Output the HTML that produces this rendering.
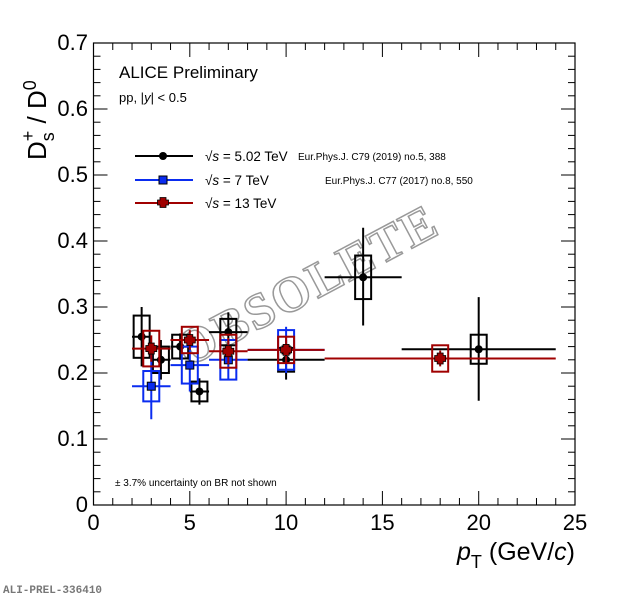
<!DOCTYPE html>
<html><head><meta charset="utf-8"><style>
body{margin:0;background:#fff;}
svg{display:block;font-family:"Liberation Sans",sans-serif;}
</style></head><body>
<svg id="s" width="620" height="598" xmlns="http://www.w3.org/2000/svg">
<rect width="620" height="598" fill="#fff"/>
<g id="ticks" stroke="#000" stroke-width="1"></g>
<rect x="93.5" y="43" width="481.5" height="462" fill="none" stroke="#000" stroke-width="1.2"/>
<g font-size="22" text-anchor="middle">
<text x="93.5" y="530">0</text><text x="189.8" y="530">5</text><text x="286" y="530">10</text>
<text x="382.4" y="530">15</text><text x="478.7" y="530">20</text><text x="575" y="530">25</text>
</g>
<g font-size="22" text-anchor="end">
<text x="88" y="512">0</text><text x="88" y="446">0.1</text><text x="88" y="380">0.2</text>
<text x="88" y="314">0.3</text><text x="88" y="248">0.4</text><text x="88" y="182">0.5</text>
<text x="88" y="116">0.6</text><text x="88" y="50">0.7</text>
</g>
<text transform="translate(46,160) rotate(-90)" font-size="26">D<tspan font-size="18" dy="8">s</tspan><tspan font-size="18" dx="-9" dy="-20">+</tspan><tspan dy="12"> / D</tspan><tspan font-size="18" dy="-10">0</tspan></text>
<text x="575" y="560" font-size="25" text-anchor="end"><tspan font-style="italic">p</tspan><tspan font-size="18" dy="8">T</tspan><tspan dy="-8"> (GeV/</tspan><tspan font-style="italic">c</tspan>)</text>
<text x="119" y="78" font-size="17">ALICE Preliminary</text>
<text x="119" y="102" font-size="13">pp, |<tspan font-style="italic">y</tspan>| &lt; 0.5</text>
<text x="115" y="486" font-size="10">± 3.7% uncertainty on BR not shown</text>
<text x="3" y="593" font-size="11" font-family="Liberation Mono,monospace" font-weight="bold" fill="#777">ALI-PREL-336410</text>
<text transform="translate(315,300) rotate(-28)" font-size="50" font-family="Liberation Serif,serif" font-weight="bold" fill="#fff" stroke="#999" stroke-width="1.5" text-anchor="middle" letter-spacing="2">OBSOLETE</text>
<g stroke-width="2">
<line x1="135" y1="156" x2="193" y2="156" stroke="#000"/><circle cx="163" cy="156" r="4" fill="#000"/>
<line x1="135" y1="180" x2="193" y2="180" stroke="#0a2cf0"/><rect x="159" y="176" width="8" height="8" fill="#0a2cf0" stroke="#000" stroke-width="1"/>
<line x1="135" y1="203" x2="193" y2="203" stroke="#a00000"/>
<path d="M160,198h6v2.5h2.5v5h-2.5v2.5h-6v-2.5h-2.5v-5h2.5z" transform="translate(0,-0.5)" fill="#a00000" stroke="#000" stroke-width="0.8"/>
</g>
<g font-size="13.5">
<text x="205" y="161">√<tspan font-style="italic">s</tspan> = 5.02 TeV</text>
<text x="205" y="185">√<tspan font-style="italic">s</tspan> = 7 TeV</text>
<text x="205" y="208">√<tspan font-style="italic">s</tspan> = 13 TeV</text>
</g>
<g font-size="10">
<text x="298" y="160">Eur.Phys.J. C79 (2019) no.5, 388</text>
<text x="325" y="184">Eur.Phys.J. C77 (2017) no.8, 550</text>
</g>
<g id="data"></g>
</svg>
<script>
var X=function(v){return 93.5+19.26*v},Y=function(v){return 505-660*v};
var ns="http://www.w3.org/2000/svg";
function el(p,t,a){var e=document.createElementNS(ns,t);for(var k in a)e.setAttribute(k,a[k]);p.appendChild(e);return e;}
var tk=document.getElementById("ticks");
for(var i=0;i<=25;i++){var L=i%5==0?14:7;el(tk,"line",{x1:X(i),y1:505,x2:X(i),y2:505-L});el(tk,"line",{x1:X(i),y1:43,x2:X(i),y2:43+L});}
for(var j=0;j<=35;j++){var v=j*0.02,L=j%5==0?14:7;el(tk,"line",{x1:93.5,y1:Y(v),x2:93.5+L,y2:Y(v)});el(tk,"line",{x1:575,y1:Y(v),x2:575-L,y2:Y(v)});}
var d=document.getElementById("data");
var red=[[3,2,4,.237,.02,.02,.027],[5,4,6,.25,.015,.015,.02],[7,6,8,.233,.02,.02,.025],[10,8,12,.235,.02,.02,.02],[18,12,24,.222,.012,.012,.02]];
var blue=[[3,2,4,.18,.05,.05,.023],[5,4,6,.212,.04,.04,.028],[7,6,8,.22,.03,.03,.03],[10,8,12,.235,.035,.035,.03]];
var black=[[2.5,2,3,.255,.045,.045,.032],[3.5,3,4,.22,.03,.03,.02],[4.5,4,5,.24,.02,.02,.018],[5.5,5,6,.172,.02,.02,.015],[7,6,8,.262,.03,.03,.02],[10,8,12,.22,.03,.03,.018],[14,12,16,.345,.073,.075,.033],[20,16,24,.236,.078,.079,.022]];
function draw(arr,col,mk){arr.forEach(function(p){
 el(d,"rect",{x:X(p[0])-8,y:Y(p[3]+p[6]),width:16,height:Y(p[3]-p[6])-Y(p[3]+p[6]),fill:"none",stroke:col,"stroke-width":2});
 el(d,"line",{x1:X(p[1]),y1:Y(p[3]),x2:X(p[2]),y2:Y(p[3]),stroke:col,"stroke-width":2});
 el(d,"line",{x1:X(p[0]),y1:Y(p[3]-p[4]),x2:X(p[0]),y2:Y(p[3]+p[5]),stroke:col,"stroke-width":2});
 var cx=X(p[0]),cy=Y(p[3]);
 if(mk=="c")el(d,"circle",{cx:cx,cy:cy,r:4,fill:"#000"});
 else if(mk=="s")el(d,"rect",{x:cx-4,y:cy-4,width:8,height:8,fill:"#0a2cf0",stroke:"#000","stroke-width":1});
 else el(d,"path",{d:"M"+(cx-3)+","+(cy-5.5)+"h6v2.5h2.5v6h-2.5v2.5h-6v-2.5h-2.5v-6h2.5z",fill:"#a00000",stroke:"#000","stroke-width":0.8});
});}
draw(black,"#000","c");draw(blue,"#0a2cf0","s");draw(red,"#a00000","p");
</script>
</body></html>
